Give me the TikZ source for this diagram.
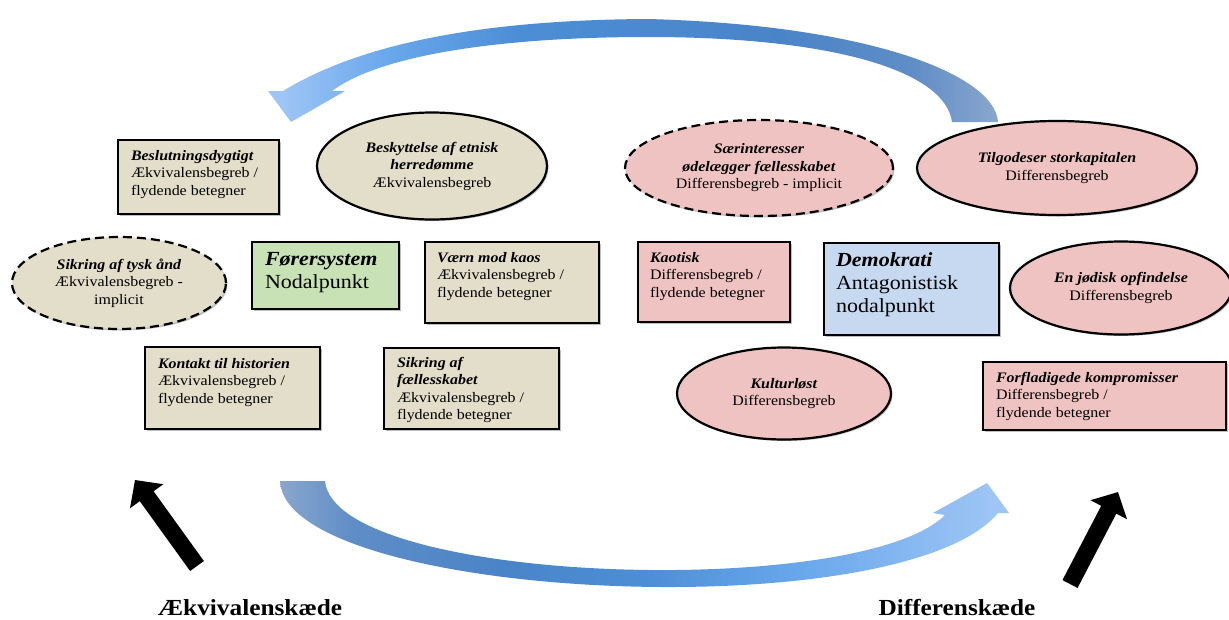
\documentclass[tikz,border=0pt]{standalone}
\usepackage{fontspec}
\setmainfont{Liberation Serif}[FakeStretch=1.1]
\usetikzlibrary{shapes.geometric,shadows,arrows.meta}
\definecolor{tanc}{HTML}{E2DECA}
\definecolor{pinkc}{HTML}{F0C3C3}
\definecolor{greenc}{HTML}{C8E1B5}
\definecolor{bluec}{HTML}{C6D9F0}
\definecolor{arrlight}{HTML}{9EC5F5}
\definecolor{arrb1}{HTML}{6AA8EC}
\definecolor{arrb2}{HTML}{4C8ED6}
\definecolor{arrmid}{HTML}{4A84C8}
\definecolor{arrb3}{HTML}{5F8DC6}
\definecolor{arrgrey}{HTML}{8AA6CD}
\pgfdeclarehorizontalshading{toparrow}{100bp}{color(0bp)=(arrlight); color(26bp)=(arrlight); color(33bp)=(arrb1); color(42bp)=(arrb2); color(60bp)=(arrmid); color(69bp)=(arrb3); color(75bp)=(arrgrey); color(100bp)=(arrgrey)}
\pgfdeclarehorizontalshading{botarrow}{100bp}{color(0bp)=(arrgrey); color(25bp)=(arrgrey); color(30bp)=(arrb3); color(40bp)=(arrmid); color(50bp)=(arrb2); color(61bp)=(arrb1); color(74bp)=(arrlight); color(100bp)=(arrlight)}
\newcommand\ti[1]{\textbf{\textit{#1}}}
\newcommand\bodyf{\fontsize{14.5pt}{17.5pt}\selectfont}
\newcommand\bigf{\fontsize{20pt}{23pt}\selectfont}
\newcommand\labf{\fontsize{23pt}{26pt}\selectfont\bfseries}
\newcommand\btxt[3]{\parbox[c][#2pt][t]{#1pt}{\raggedright #3}}
\tikzset{
  shad/.style={drop shadow={shadow xshift=1.5pt,shadow yshift=-1.5pt,fill=black,opacity=0.25}},
  cbox/.style={draw=black, line width=2.4pt, inner sep=0pt, shad, font=\bodyf},
  tanbox/.style={cbox, fill=tanc},
  pinkbox/.style={cbox, fill=pinkc},
  ell/.style={ellipse, draw=black, line width=2.2pt, inner sep=0pt, align=center, shad, font=\bodyf},
  tanell/.style={ell, fill=tanc},
  pinkell/.style={ell, fill=pinkc},
  dashell/.style={dash pattern=on 9pt off 5pt},
  bigarrow/.style={line width=17pt, -{Triangle[length=20pt,width=40pt]}},
  lab/.style={font=\labf, inner sep=0pt},
}
\begin{document}
\begin{tikzpicture}[x=1pt,y=-1pt]
\path[use as bounding box, fill=white] (0,0) rectangle (1229,619);

% curved blue arrows
\shade[shading=toparrow]
  (998,122) .. controls (995,75) and (870,25) .. (648,19)
  .. controls (460,20) and (350,50) .. (283,91) -- (268,91) -- (291,122)
  -- (345,91) -- (332,91) .. controls (380,55) and (500,37) .. (648,37)
  .. controls (830,37) and (945,70) .. (952,122) -- cycle;
\shade[shading=botarrow]
  (280,481) .. controls (285,600) and (900,630) .. (998,513) -- (1009,513) -- (987,483)
  -- (933,513) -- (945,515) .. controls (860,600) and (335,585) .. (325,481) -- cycle;

% equivalence side
\node[tanbox, minimum width=161pt, minimum height=74pt] (besl) at (198.5,177)
  {\btxt{135}{54}{\ti{Beslutningsdygtigt}\\Ækvivalensbegreb /\\flydende betegner}};
\node[tanell, minimum width=230pt, minimum height=107pt] (beskyt) at (432,166)
  {\ti{Beskyttelse af etnisk}\\\ti{herredømme}\\Ækvivalensbegreb};
\node[tanell, dashell, minimum width=214pt, minimum height=92pt] (tysk) at (119,283)
  {\ti{Sikring af tysk ånd}\\Ækvivalensbegreb -\\implicit};
\node[cbox, fill=greenc, font=\bigf, minimum width=147pt, minimum height=67pt] (forer) at (325.5,275.5)
  {\btxt{121}{47}{\ti{Førersystem}\\Nodalpunkt}};
\node[tanbox, minimum width=174pt, minimum height=81pt] (vaern) at (512,282.5)
  {\btxt{150}{61}{\ti{Værn mod kaos}\\Ækvivalensbegreb /\\flydende betegner}};
\node[tanbox, minimum width=175pt, minimum height=82pt] (kontakt) at (232.5,388)
  {\btxt{149}{60}{\ti{Kontakt til historien}\\Ækvivalensbegreb /\\flydende betegner}};
\node[tanbox, minimum width=175pt, minimum height=81pt] (sikfael) at (471.5,388.5)
  {\btxt{149}{63}{\ti{Sikring af}\\\ti{fællesskabet}\\Ækvivalensbegreb /\\flydende betegner}};

% difference side
\node[pinkell, dashell, minimum width=268pt, minimum height=96pt] (saer) at (759,168)
  {\ti{Særinteresser}\\\ti{ødelægger fællesskabet}\\Differensbegreb - implicit};
\node[pinkell, minimum width=280pt, minimum height=94pt] (tilgod) at (1057,168)
  {\ti{Tilgodeser storkapitalen}\\Differensbegreb};
\node[pinkbox, minimum width=152pt, minimum height=80pt] (kaotisk) at (714,282)
  {\btxt{128}{60}{\ti{Kaotisk}\\Differensbegreb /\\flydende betegner}};
\node[cbox, fill=bluec, font=\bigf, minimum width=175pt, minimum height=92pt] (demo) at (911.5,289)
  {\btxt{151}{72}{\ti{Demokrati}\\Antagonistisk\\nodalpunkt}};
\node[pinkell, minimum width=222pt, minimum height=93pt] (jodisk) at (1121,288)
  {\ti{En jødisk opfindelse}\\Differensbegreb};
\node[pinkell, minimum width=214pt, minimum height=92pt] (kultur) at (784,393.5)
  {\ti{Kulturløst}\\Differensbegreb};
\node[pinkbox, minimum width=243pt, minimum height=68pt] (forfl) at (1104.5,396)
  {\btxt{217}{48}{\ti{Forfladigede kompromisser}\\Differensbegreb /\\flydende betegner}};

% black arrows and labels
\coordinate (ltail) at (197,566);
\coordinate (ltip) at (135,480);
\coordinate (rtail) at (1070,584);
\coordinate (rtip) at (1118,492);
\draw[bigarrow] (ltail) -- (ltip);
\draw[bigarrow] (rtail) -- (rtip);
\node[lab] (ekv) at (250,608) {Ækvivalenskæde};
\node[lab] (diff) at (957,608) {Differenskæde};
\end{tikzpicture}
\end{document}
